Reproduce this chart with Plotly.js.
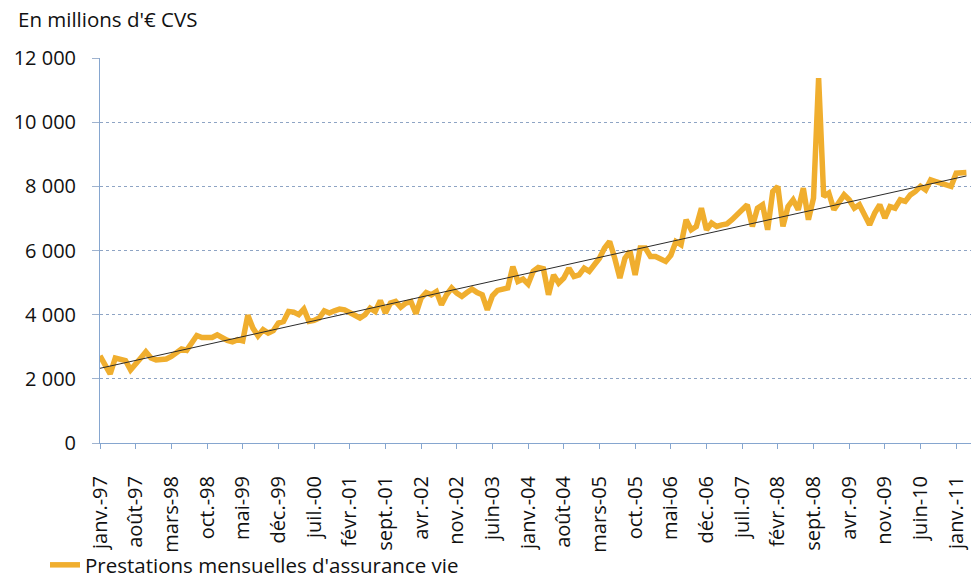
<!DOCTYPE html>
<html>
<head>
<meta charset="utf-8">
<script src="https://cdn.plot.ly/plotly-3.0.1.min.js"></script>
<style>
  html, body { margin: 0; padding: 0; background: #fff; }
  #chart { width: 971px; height: 582px; }
</style>
</head>
<body>
<div id="chart"></div>
<script>
// Monthly life-insurance benefits, janv. 1997 -> mars 2011 (millions of €, CVS)
const seriesName = "Prestations mensuelles d'assurance vie";
const yTitle = "En millions d'€ CVS";
const values = [
  2720, 2440, 2150, 2650, 2590, 2570, 2280, 2440, 2650, 2840, 2650, 2590,
  2590, 2620, 2700, 2835, 2930, 2890, 3115, 3350, 3290, 3300, 3290, 3370,
  3270, 3200, 3150, 3220, 3180, 3980, 3580, 3340, 3530, 3425, 3500, 3740,
  3790, 4100, 4080, 4000, 4175, 3790, 3820, 3895, 4120, 4050, 4120, 4175,
  4150, 4050, 3945, 3895, 4000, 4205, 4100, 4440, 4050, 4360, 4410, 4235,
  4360, 4410, 4030, 4515, 4690, 4620, 4720, 4310, 4620, 4830, 4670, 4570,
  4690, 4800, 4690, 4620, 4150, 4590, 4755, 4800, 4830, 5500, 5035, 5110,
  4950, 5350, 5470, 5430, 4620, 5240, 4985, 5140, 5450, 5190, 5240, 5450,
  5350, 5555, 5760, 6075, 6280, 5760, 5140, 5760, 5970, 5240, 6075, 6075,
  5815, 5815, 5760, 5660, 5850, 6280, 6180, 6960, 6645, 6750, 7320, 6645,
  6855, 6750, 6800, 6830, 6960, 7110, 7270, 7425, 6750, 7320, 7425, 6645,
  7840, 7995, 6750, 7370, 7580, 7270, 7945, 6960, 7630, 11370, 7680, 7790,
  7270, 7475, 7735, 7580, 7320, 7425, 7060, 6800, 7165, 7425, 7010, 7370,
  7320, 7580, 7530, 7735, 7840, 8000, 7890, 8200, 8150, 8100, 8050, 8000,
  8410, 8430, 8430
];
const tickLabels = [
  "janv.-97", "août-97", "mars-98", "oct.-98", "mai-99", "déc.-99", "juil.-00",
  "févr.-01", "sept.-01", "avr.-02", "nov.-02", "juin-03", "janv.-04", "août-04",
  "mars-05", "oct.-05", "mai-06", "déc.-06", "juil.-07", "févr.-08", "sept.-08",
  "avr.-09", "nov.-09", "juin-10", "janv.-11"
];
const tickStepMonths = 7;

// month index positions
const x = values.map((_, i) => i);
const tickVals = tickLabels.map((_, i) => i * tickStepMonths);

// linear least-squares trendline (as Excel's linear trendline)
const n = x.length;
const mx = x.reduce((a, b) => a + b, 0) / n;
const my = values.reduce((a, b) => a + b, 0) / n;
let sxy = 0, sxx = 0;
for (let i = 0; i < n; i++) { sxy += (x[i] - mx) * (values[i] - my); sxx += (x[i] - mx) ** 2; }
const slope = sxy / sxx, intercept = my - slope * mx;
const trend = x.map(v => intercept + slope * v);

const FONT = "Open Sans, Noto Sans, sans-serif";
const axisColor = "#86a6cf";

const traces = [
  {
    x: x, y: values, type: "scatter", mode: "lines", name: seriesName,
    line: { color: "#F0AE2E", width: 5.5 }, showlegend: true
  },
  {
    x: x, y: trend, type: "scatter", mode: "lines", name: "Tendance",
    line: { color: "#2b2b2b", width: 1 }, showlegend: false
  }
];

const layout = {
  width: 971, height: 582,
  margin: { l: 100, r: 0, t: 58, b: 139, pad: 0 },
  paper_bgcolor: "#fff", plot_bgcolor: "#fff",
  separators: ", ",
  font: { family: FONT, size: 20, color: "#111" },
  title: {
    text: yTitle, xref: "container", yref: "container",
    x: 18 / 971, xanchor: "left", y: 1 - 20 / 582, yanchor: "middle",
    font: { family: FONT, size: 20.5, color: "#111" }
  },
  xaxis: {
    range: [0, 170.9], tickmode: "array", tickvals: tickVals, ticktext: tickLabels,
    tickangle: -90, ticks: "outside", ticklen: 5, tickcolor: axisColor, tickwidth: 1,
    showline: true, linecolor: axisColor, linewidth: 1,
    showgrid: false, zeroline: false, ticklabelstandoff: 19,
    ticklabeloverflow: "allow",
    tickfont: { family: FONT, size: 20, color: "#111" }, fixedrange: true
  },
  yaxis: {
    range: [0, 12000], dtick: 2000, tick0: 0, tickformat: ",d",
    ticks: "outside", ticklen: 7, tickcolor: "#9fb3cf",
    showline: true, linecolor: axisColor, linewidth: 1,
    showgrid: true, gridcolor: "#8ea4c4", griddash: "dot", gridwidth: 1,
    zeroline: false, ticklabelstandoff: 12,
    tickfont: { family: FONT, size: 20, color: "#111" }, fixedrange: true
  },
  showlegend: true,
  legend: {
    orientation: "h", xref: "container", yref: "container",
    x: 45 / 971, xanchor: "left", y: 1 - 565 / 582, yanchor: "middle",
    font: { family: FONT, size: 20.5, color: "#111" }, bgcolor: "rgba(0,0,0,0)",
    itemwidth: 30
  }
};

Plotly.newPlot("chart", traces, layout, { displayModeBar: false, staticPlot: true });
</script>
</body>
</html>
